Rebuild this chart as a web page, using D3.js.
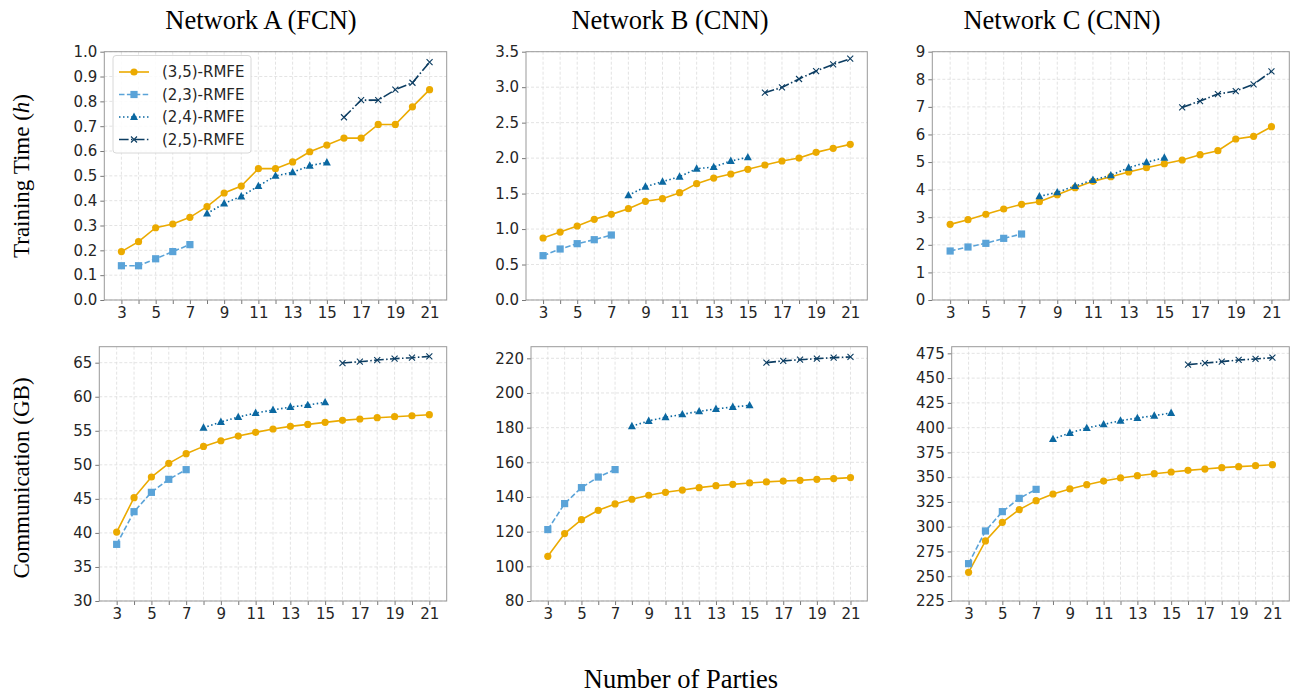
<!DOCTYPE html>
<html>
<head>
<meta charset="utf-8">
<script src="https://cdn.jsdelivr.net/npm/d3@7"></script>
<style>
  body { margin: 0; background: #fff; }
  svg { display: block; }
  .tick text { font-family: "DejaVu Sans", sans-serif; font-size: 15px; fill: #262626; }
  .serif { font-family: "Liberation Serif", "Times New Roman", serif; fill: #000; }
</style>
</head>
<body>
<div id="chart"></div>
<script>
// x values (number of parties)
var parties35 = [3,4,5,6,7,8,9,10,11,12,13,14,15,16,17,18,19,20,21]
var parties23 = [3,4,5,6,7]
var parties24 = [8,9,10,11,12,13,14,15]
var parties25 = [16,17,18,19,20,21]
var xTicks = [3,5,7,9,11,13,15,17,19,21]

// training time (h)
var timeA35 = [0.195,0.235,0.291,0.306,0.333,0.376,0.431,0.459,0.529,0.529,0.556,0.597,0.624,0.652,0.652,0.707,0.707,0.778,0.847]
var timeA23 = [0.138,0.138,0.166,0.195,0.223]
var timeA24 = [0.348,0.389,0.417,0.459,0.500,0.514,0.541,0.554]
var timeA25 = [0.736,0.805,0.805,0.847,0.875,0.958]

var timeB35 = [0.874,0.958,1.043,1.137,1.207,1.287,1.391,1.428,1.513,1.640,1.719,1.776,1.842,1.903,1.959,2.001,2.081,2.138,2.194]
var timeB23 = [0.625,0.719,0.794,0.850,0.916]
var timeB24 = [1.475,1.597,1.668,1.738,1.851,1.874,1.959,2.011]
var timeB25 = [2.922,2.997,3.115,3.227,3.321,3.401]

var timeC35 = [2.742,2.911,3.105,3.298,3.467,3.564,3.817,4.071,4.300,4.470,4.639,4.796,4.941,5.074,5.267,5.412,5.835,5.931,6.282]
var timeC23 = [1.776,1.921,2.054,2.235,2.392]
var timeC24 = [3.757,3.902,4.131,4.349,4.518,4.796,4.989,5.158]
var timeC25 = [6.982,7.212,7.466,7.574,7.816,8.287]

// communication (GB)
var commA35 = [40.13,45.17,48.21,50.22,51.64,52.71,53.54,54.23,54.77,55.26,55.65,55.94,56.24,56.53,56.73,56.92,57.07,57.21,57.36]
var commA23 = [38.32,43.12,45.96,47.87,49.29]
var commA24 = [55.45,56.29,57.02,57.61,58.05,58.49,58.78,59.18]
var commA25 = [64.95,65.15,65.39,65.59,65.73,65.93]

var commB35 = [105.8,118.9,126.9,132.3,136.0,138.7,141.0,142.7,144.0,145.4,146.5,147.3,148.1,148.7,149.2,149.6,150.2,150.6,151.2]
var commB23 = [121.2,136.2,145.4,151.5,155.8]
var commB24 = [180.8,183.9,186.0,187.7,189.4,190.8,191.9,192.9]
var commB25 = [217.5,218.5,219.2,219.8,220.4,220.8]

var commC35 = [253.9,285.6,304.4,317.2,326.3,333.0,338.1,342.4,346.1,349.2,351.5,353.5,355.2,356.9,358.2,359.6,360.6,361.6,362.6]
var commC23 = [262.7,295.7,315.2,328.6,337.7]
var commC24 = [388.5,394.6,399.6,403.3,407.0,409.7,412.1,414.8]
var commC25 = [463.6,465.2,466.6,468.3,469.3,470.6]

var seriesNames = ["(3,5)-RMFE", "(2,3)-RMFE", "(2,4)-RMFE", "(2,5)-RMFE"]
var titles = ["Network A (FCN)", "Network B (CNN)", "Network C (CNN)"]

var colors = ["#EBAA00", "#5AA3D8", "#0B68A1", "#0C3D62"]
var dashes = [null, "5.5,2.4", "1.5,2.5", "9.6,2.4,1.5,2.4"]
var markers = ["circle", "square", "triangle", "cross"]

var panels = [
  {l: 104.3, r: 446.7, t: 51.7, b: 300, dom: [0, 1], ticks: [0,0.1,0.2,0.3,0.4,0.5,0.6,0.7,0.8,0.9,1.0], fmt: ".1f",
   ys: [timeA35, timeA23, timeA24, timeA25], legend: true},
  {l: 526, r: 867.3, t: 51.7, b: 300, dom: [0, 3.5], ticks: [0,0.5,1,1.5,2,2.5,3,3.5], fmt: ".1f",
   ys: [timeB35, timeB23, timeB24, timeB25]},
  {l: 932.3, r: 1289.3, t: 51.7, b: 300, dom: [0, 9], ticks: [0,1,2,3,4,5,6,7,8,9], fmt: "d",
   ys: [timeC35, timeC23, timeC24, timeC25]},
  {l: 99.3, r: 446.7, t: 346.7, b: 601, dom: [30, 67.35], ticks: [30,35,40,45,50,55,60,65], fmt: "d",
   ys: [commA35, commA23, commA24, commA25]},
  {l: 531, r: 867.3, t: 346.7, b: 601, dom: [80, 226.7], ticks: [80,100,120,140,160,180,200,220], fmt: "d",
   ys: [commB35, commB23, commB24, commB25]},
  {l: 951.7, r: 1289.3, t: 346.7, b: 601, dom: [225, 481.7], ticks: [225,250,275,300,325,350,375,400,425,450,475], fmt: "d",
   ys: [commC35, commC23, commC24, commC25]}
]
var xsList = [parties35, parties23, parties24, parties25]

var svg = d3.select("#chart").append("svg")
  .attr("width", 1294)
  .attr("height", 694)

function drawMarker(g, type, color) {
  if (type == "circle") {
    g.append("circle").attr("r", 3.6).attr("fill", color)
  } else if (type == "square") {
    g.append("rect").attr("x", -3.6).attr("y", -3.6).attr("width", 7.2).attr("height", 7.2).attr("fill", color)
  } else if (type == "triangle") {
    g.append("path").attr("d", "M0,-4.4L4,3L-4,3Z").attr("fill", color)
  } else {
    g.append("path").attr("d", "M-3,-3L3,3M-3,3L3,-3").attr("stroke", color).attr("stroke-width", 1.1).attr("fill", "none")
  }
}

panels.forEach(function(p) {
  var x = d3.scaleLinear().domain([2, 22]).range([p.l, p.r])
  var y = d3.scaleLinear().domain(p.dom).range([p.b, p.t])
  var g = svg.append("g")

  // grid
  var gridX = [3,4,5,6,7,8,9,10,11,12,13,14,15,16,17,18,19,20,21]
  g.selectAll(".gx").data(gridX).enter().append("line")
    .attr("x1", function(d) { return x(d) }).attr("x2", function(d) { return x(d) })
    .attr("y1", p.t).attr("y2", p.b)
    .attr("stroke", "#dcdcdc").attr("stroke-width", 0.8).attr("stroke-dasharray", "3,2")
  g.selectAll(".gy").data(p.ticks).enter().append("line")
    .attr("x1", p.l).attr("x2", p.r)
    .attr("y1", function(d) { return y(d) }).attr("y2", function(d) { return y(d) })
    .attr("stroke", "#dcdcdc").attr("stroke-width", 0.8).attr("stroke-dasharray", "3,2")

  // axes
  var xAxis = g.append("g").attr("transform", "translate(0," + p.b + ")")
    .call(d3.axisBottom(x).tickValues(gridX).tickSize(4).tickPadding(3)
      .tickFormat(function(d) { return xTicks.indexOf(d) >= 0 ? d : "" }))
  var yAxis = g.append("g").attr("transform", "translate(" + p.l + ",0)")
    .call(d3.axisLeft(y).tickValues(p.ticks).tickSize(4).tickPadding(3).tickFormat(d3.format(p.fmt)))
  ;[xAxis, yAxis].forEach(function(a) {
    a.select(".domain").remove()
    a.selectAll(".tick line").attr("stroke", "#555").attr("stroke-width", 0.8)
  })
  g.append("rect").attr("x", p.l).attr("y", p.t).attr("width", p.r - p.l).attr("height", p.b - p.t)
    .attr("fill", "none").attr("stroke", "#999").attr("stroke-width", 1)

  // series
  p.ys.forEach(function(vals, i) {
    var pts = vals.map(function(v, j) { return [xsList[i][j], v] })
    var line = d3.line().x(function(d) { return x(d[0]) }).y(function(d) { return y(d[1]) })
    g.append("path").datum(pts).attr("d", line)
      .attr("fill", "none").attr("stroke", colors[i]).attr("stroke-width", 1.6)
      .attr("stroke-dasharray", dashes[i])
    pts.forEach(function(d) {
      var m = g.append("g").attr("transform", "translate(" + x(d[0]) + "," + y(d[1]) + ")")
      drawMarker(m, markers[i], colors[i])
    })
  })

  if (p.legend) {
    var lg = g.append("g")
    lg.append("rect").attr("x", 113).attr("y", 55.5).attr("width", 138).attr("height", 97.5)
      .attr("rx", 3).attr("fill", "#fff").attr("fill-opacity", 0.85).attr("stroke", "#d8d8d8")
    seriesNames.forEach(function(name, i) {
      var ly = 72 + i * 22.5
      lg.append("line").attr("x1", 119).attr("x2", 149).attr("y1", ly).attr("y2", ly)
        .attr("stroke", colors[i]).attr("stroke-width", 1.6).attr("stroke-dasharray", dashes[i])
      var m = lg.append("g").attr("transform", "translate(134," + ly + ")")
      drawMarker(m, markers[i], colors[i])
      lg.append("text").attr("x", 162).attr("y", ly).attr("dy", "0.36em")
        .attr("font-family", "DejaVu Sans, sans-serif").attr("font-size", 15).attr("fill", "#262626")
        .text(name)
    })
  }
})

// titles
var titleX = [261, 670, 1062]
titles.forEach(function(t, i) {
  svg.append("text").attr("class", "serif").attr("x", titleX[i]).attr("y", 29)
    .attr("text-anchor", "middle").attr("font-size", 26.5).text(t)
})

var yl1 = svg.append("text").attr("class", "serif").attr("text-anchor", "middle").attr("font-size", 23)
  .attr("transform", "translate(29,176) rotate(-90)")
yl1.append("tspan").text("Training Time (")
yl1.append("tspan").attr("font-style", "italic").text("h")
yl1.append("tspan").text(")")

svg.append("text").attr("class", "serif").attr("text-anchor", "middle").attr("font-size", 23)
  .attr("transform", "translate(29,478) rotate(-90)").text("Communication (GB)")

svg.append("text").attr("class", "serif").attr("x", 681).attr("y", 688)
  .attr("text-anchor", "middle").attr("font-size", 26.5).text("Number of Parties")
</script>
</body>
</html>
